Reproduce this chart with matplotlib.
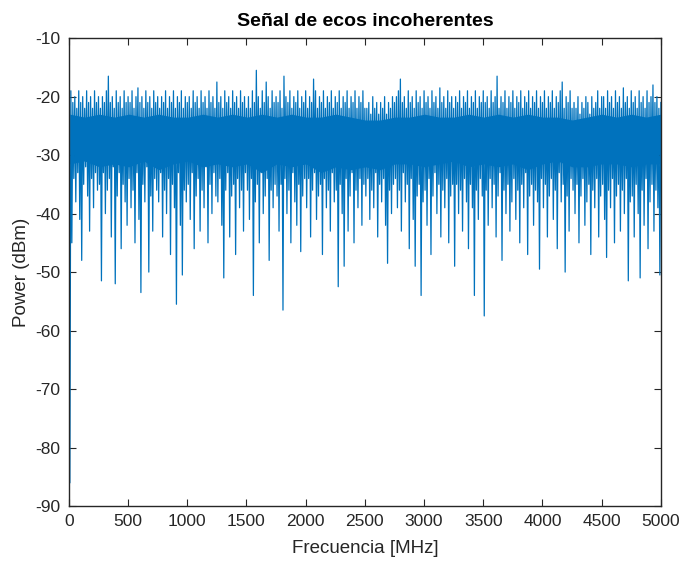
import numpy as np
import matplotlib.pyplot as plt

plt.rcParams['font.family'] = ['Liberation Sans', 'DejaVu Sans']
plt.rcParams['axes.unicode_minus'] = False

# potencia del espectro (dBm), 30 muestras por cada tramo de 250 MHz
p00 = [-86, -19, -45, -21, -34, -20, -38, -22, -33, -19, -41, -21, -48, -20, -35, -22, -32, -19, -37, -21, -43, -20, -34, -22, -39, -19, -33, -21, -36, -20]
p01 = [-35, -22, -51.5, -20, -33, -21, -40, -19, -36, -16.5, -34, -21, -44, -20, -32, -22, -52, -19, -37, -21, -33, -20, -46, -22, -35, -19, -38, -21, -42, -20]
p02 = [-34, -21, -39, -19, -36, -22, -45, -20, -33, -18.5, -41, -21, -53.5, -20, -35, -22, -38, -19, -32, -21, -50, -20, -37, -22, -43, -19, -34, -21, -36, -20]
p03 = [-38, -22, -33, -20, -44, -21, -36, -19, -40, -22, -34, -20, -47, -21, -35, -19, -39, -22, -55.5, -20, -33, -21, -42, -19, -50.5, -22, -36, -20, -38, -21]
p04 = [-35, -20, -41, -22, -33, -19, -46, -21, -37, -20, -34, -22, -43, -19, -36, -21, -39, -20, -32, -22, -45, -19, -35, -21, -40, -20, -33, -22, -37, -17.5]
p05 = [-38, -21, -34, -20, -42, -22, -51, -19, -36, -21, -33, -20, -44, -22, -37, -19, -35, -21, -47, -20, -34, -22, -39, -19, -36, -21, -43, -20, -33, -22]
p06 = [-36, -20, -41, -22, -34, -19, -54, -21, -38, -15.5, -35, -20, -45, -22, -33, -19, -40, -21, -37, -17.5, -34, -20, -48, -22, -36, -19, -39, -21, -35, -20]
p07 = [-37, -21, -43, -19, -35, -22, -56.5, -16.5, -34, -20, -40, -21, -36, -19, -45, -22, -33, -20, -38, -21, -42, -19, -35, -22, -46.5, -20, -37, -21, -34, -19]
p08 = [-39, -22, -34, -20, -44, -21, -36, -17, -33, -19, -41, -22, -37, -20, -35, -21, -47, -19, -34, -22, -39, -20, -36, -21, -43, -19, -33, -22, -38, -20]
p09 = [-36, -21, -52.5, -19, -35, -22, -40, -20, -49, -21, -34, -19, -43, -22, -37, -20, -33, -21, -45, -19, -36, -22, -39, -20, -34, -21, -42, -19, -35, -22]
p10 = [-37, -22, -34, -21, -41, -23, -36, -20, -39, -22, -33, -21, -44, -23, -35, -21, -38, -22, -34, -20, -42, -23, -48.5, -21, -36, -22, -40, -20, -35, -21]
p11 = [-34, -20, -39, -19, -36, -17, -43, -21, -33, -20, -38, -22, -35, -19, -46, -21, -34, -20, -41, -22, -49, -19, -37, -21, -35, -20, -54, -22, -38, -19]
p12 = [-36, -21, -42, -20, -34, -22, -47, -19, -37, -21, -33, -20, -40, -22, -35, -18.5, -44, -21, -36, -20, -39, -22, -34, -19, -45, -21, -37, -20, -35, -22]
p13 = [-49, -20, -35, -21, -40, -19, -36, -22, -43, -20, -34, -21, -38, -19, -46, -22, -35, -20, -39, -21, -54, -19, -36, -22, -41, -20, -34, -21, -37, -19]
p14 = [-57.5, -21, -36, -20, -42, -22, -34, -19, -39, -21, -35, -20, -44, -16.5, -37, -22, -33, -20, -48, -21, -36, -19, -40, -22, -35, -20, -43, -21, -38, -19]
p15 = [-34, -22, -41, -20, -36, -21, -45, -19, -35, -22, -39, -20, -33, -21, -47, -19, -37, -22, -35, -20, -42, -21, -36, -19, -38, -22, -49.5, -20, -34, -21]
p16 = [-39, -19, -35, -22, -44, -20, -37, -21, -34, -19, -41, -22, -36, -20, -46, -21, -33, -19, -38, -17.5, -35, -22, -50, -20, -37, -21, -43, -19, -34, -22]
p17 = [-36, -21, -40, -22, -35, -20, -45, -23, -37, -21, -34, -22, -42, -20, -38, -21, -35, -23, -47, -20, -36, -22, -39, -21, -34, -19, -44, -22, -37, -20]
p18 = [-35, -20, -41, -22, -47.5, -19, -36, -21, -39, -20, -34, -22, -45, -19, -37, -21, -35, -20, -43, -22, -36, -18.5, -40, -21, -34, -20, -51.5, -22, -38, -19]
p19 = [-37, -21, -44, -20, -35, -22, -40, -19, -51, -21, -36, -20, -42, -22, -34, -19, -46, -21, -38, -20, -35, -18, -43, -21, -36, -20, -39, -22, -50.5, -21]

# franja central donde la traza es continua (cada 125 MHz)
nucleo_sup = [-23, -23.5, -23, -23.5, -23, -23.5, -23, -23.5, -23.5, -23, -23.5, -23, -23.5, -23, -23.5, -23, -23.5, -23.5, -23, -23.5, -24,
              -24, -23.5, -23.5, -23, -23.5, -23.5, -23, -23.5, -23, -23.5, -23, -23.5, -23.5, -24, -23.5, -23, -23.5, -23, -23.5, -23]
nucleo_inf = [-31.5, -31, -32, -31.5, -32, -31, -32.5, -31.5, -31, -32, -31.5, -32, -31.5, -33, -31.5, -32, -31.5, -33, -32, -32.5, -32,
              -32.5, -31.5, -31.5, -32, -31.5, -31, -32, -31.5, -32, -31.5, -32.5, -31.5, -31, -32, -32, -31.5, -31.5, -32, -31.5, -31.5]

potencia = np.concatenate([p00, p01, p02, p03, p04, p05, p06, p07, p08, p09,
                           p10, p11, p12, p13, p14, p15, p16, p17, p18, p19])
df = 5000 / len(potencia)
frecuencia = df * np.arange(1, len(potencia) + 1)
f_nucleo = np.linspace(df, 5000, len(nucleo_sup))

azul = '#0072BD'
gris = '#262626'

fig = plt.figure(figsize=(6.82, 5.61), dpi=100)
ax = fig.add_axes([0.101, 0.098, 0.868, 0.834])

ax.fill_between(f_nucleo, nucleo_inf, nucleo_sup, color=azul, lw=0)
ax.plot(frecuencia, potencia, color=azul, lw=0.9)

ax.set_xlim(0, 5000)
ax.set_ylim(-90, -10)
ax.set_xticks(np.arange(0, 5001, 500))
ax.set_yticks(np.arange(-90, -9, 10))

for s in ax.spines.values():
    s.set_color(gris)
    s.set_linewidth(1.0)
ax.tick_params(direction='in', length=5, width=0.8, colors=gris,
               labelsize=12.5, top=True, right=True, pad=6)

ax.set_title('Señal de ecos incoherentes', fontsize=14, fontweight='bold', pad=9)
ax.set_xlabel('Frecuencia [MHz]', fontsize=13.5, color=gris, labelpad=8)
ax.set_ylabel('Power (dBm)', fontsize=13.5, color=gris, labelpad=4)

fig.savefig('out.png', dpi=100)
